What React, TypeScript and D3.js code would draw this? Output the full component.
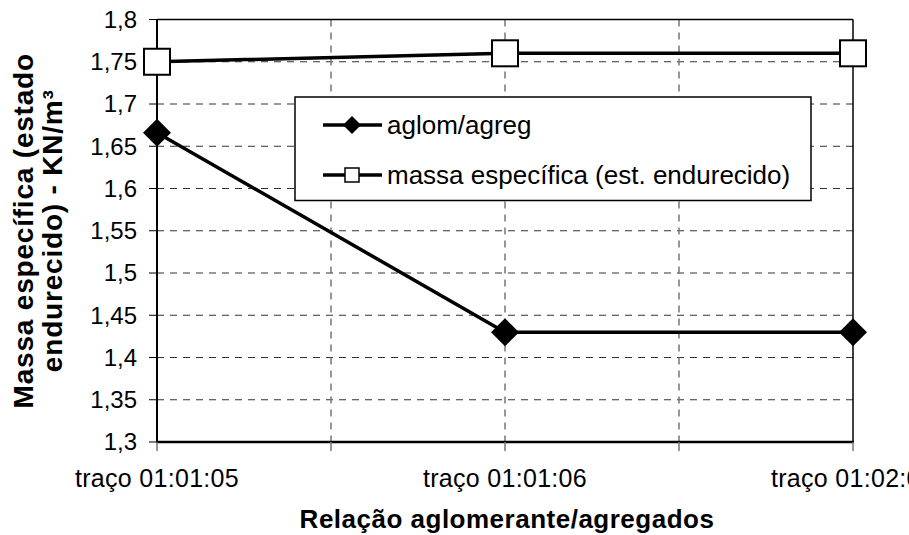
import React from "react";
import * as d3 from "d3";

// dados
const categorias = ["traço 01:01:05", "traço 01:01:06", "traço 01:02:06"];
const aglomAgreg = [1.666, 1.43, 1.43];
const massaEspecifica = [1.75, 1.76, 1.76];
const yTicks = [1.3, 1.35, 1.4, 1.45, 1.5, 1.55, 1.6, 1.65, 1.7, 1.75, 1.8];
const legenda = ["aglom/agreg", "massa específica (est. endurecido)"];

const W = 909;
const H = 535;
const left = 157;
const right = 853;
const top = 19.5;
const bottom = 442;

const FONT = "'Liberation Sans', Arial, sans-serif";

export default function App() {
  const x = d3.scalePoint<string>().domain(categorias).range([left, right]);
  const y = d3.scaleLinear().domain([1.3, 1.8]).range([bottom, top]);
  const fmt = d3.formatLocale({ decimal: ",", thousands: ".", grouping: [3], currency: ["", ""] }).format("~g");

  const line = d3
    .line<number>()
    .x((_, i) => x(categorias[i]) as number)
    .y((d) => y(d));

  // linhas de grade verticais a cada meia categoria
  const step = x.step();
  const vGrid = d3.range(1, categorias.length * 2 - 2).map((k) => left + (k * step) / 2);

  const diamond = (cx: number, cy: number, r: number) =>
    `M${cx},${cy - r}L${cx + r},${cy}L${cx},${cy + r}L${cx - r},${cy}Z`;

  return (
    <svg width={W} height={H} style={{ display: "block", position: "absolute", left: 0, top: 0 }} fontFamily={FONT}>
      <rect width={W} height={H} fill="#fff" />

      {/* grade horizontal */}
      {yTicks.slice(1, -1).map((t) => (
        <line key={"h" + t} x1={left} x2={right} y1={y(t)} y2={y(t)} stroke="#333" strokeWidth={1} strokeDasharray="7,6" />
      ))}
      {/* grade vertical */}
      {vGrid.map((gx) => (
        <line key={"v" + gx} x1={gx} x2={gx} y1={top} y2={bottom} stroke="#777" strokeWidth={1.5} strokeDasharray="7,6" />
      ))}

      {/* moldura */}
      <line x1={left} x2={right} y1={top} y2={top} stroke="#000" strokeWidth={1.5} />
      <line x1={right} x2={right} y1={top} y2={bottom} stroke="#000" strokeWidth={1.5} />
      <line x1={left} x2={left} y1={top} y2={bottom + 1} stroke="#000" strokeWidth={2} />
      <line x1={left - 1} x2={right + 1} y1={bottom} y2={bottom} stroke="#000" strokeWidth={2.5} />

      {/* eixo y */}
      {yTicks.map((t) => (
        <g key={"y" + t}>
          <line x1={left - 8} x2={left} y1={y(t)} y2={y(t)} stroke="#000" strokeWidth={1} />
          <text x={137} y={y(t)} dy="0.35em" textAnchor="end" fontSize={24}>
            {fmt(t)}
          </text>
        </g>
      ))}

      {/* eixo x */}
      {[left, ...vGrid, right].map((tx) => (
        <line key={"xt" + tx} x1={tx} x2={tx} y1={bottom} y2={bottom + 9} stroke="#777" strokeWidth={1.5} />
      ))}
      {categorias.map((c) => (
        <text key={c} x={x(c)} y={487} textAnchor="middle" fontSize={25} letterSpacing={0.3}>
          {c}
        </text>
      ))}

      {/* séries */}
      <path d={line(aglomAgreg) || ""} fill="none" stroke="#000" strokeWidth={3.5} />
      <path d={line(massaEspecifica) || ""} fill="none" stroke="#000" strokeWidth={3.5} />
      {aglomAgreg.map((v, i) => (
        <path key={"d" + i} d={diamond(x(categorias[i]) as number, y(v), 14)} fill="#000" />
      ))}
      {massaEspecifica.map((v, i) => (
        <rect key={"s" + i} x={(x(categorias[i]) as number) - 13} y={y(v) - 13} width={26} height={26} fill="#fff" stroke="#000" strokeWidth={2} />
      ))}

      {/* legenda */}
      <rect x={295} y={97} width={516} height={103.5} fill="#fff" stroke="#000" strokeWidth={1.5} />
      <line x1={323} x2={382} y1={125} y2={125} stroke="#000" strokeWidth={3.5} />
      <path d={diamond(352, 125, 9)} fill="#000" />
      <line x1={323} x2={382} y1={175} y2={175} stroke="#000" strokeWidth={3.5} />
      <rect x={345} y={168} width={14} height={14} fill="#fff" stroke="#000" strokeWidth={1.5} />
      {legenda.map((l, i) => (
        <text key={l} x={387} y={134 + i * 50} fontSize={26}>
          {l}
        </text>
      ))}

      {/* títulos */}
      <text x={507} y={528} textAnchor="middle" fontSize={26} fontWeight="bold" letterSpacing={0.5}>
        Relação aglomerante/agregados
      </text>
      <g transform={`translate(0, ${(top + bottom) / 2}) rotate(-90)`}>
        <text x={0} y={33} textAnchor="middle" fontSize={28} fontWeight="bold" letterSpacing={0.8}>
          Massa específica (estado
        </text>
        <text x={0} y={62} textAnchor="middle" fontSize={28} fontWeight="bold" letterSpacing={0.8}>
          endurecido) - KN/m³
        </text>
      </g>
    </svg>
  );
}
